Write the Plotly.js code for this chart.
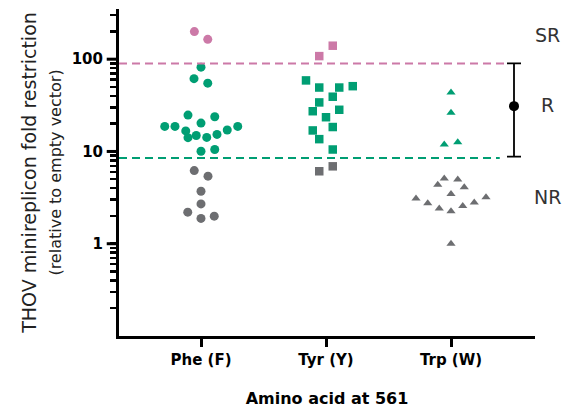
<!DOCTYPE html>
<html>
<head>
<meta charset="utf-8">
<script src="https://cdn.plot.ly/plotly-3.0.1.min.js"></script>
<style>html,body{margin:0;padding:0;background:#fff;}#chart{width:569px;height:409px;}</style>
</head>
<body>
<div id="chart"></div>
<script>
// ---- data ----
const categories = ['Phe (F)', 'Tyr (Y)', 'Trp (W)'];
const yMajorVals = [1, 10, 100];
const yMajorText = ['1', '10', '100'];

// Phe (F)
const pheSR = [199, 164];
const pheSRdx = [-0.053, 0.054];
const pheR = [82, 61.5, 55, 24.8, 20.3, 23.8, 18.7, 18.7, 16.7, 14.1, 14.9, 14.2, 15.3, 17.1, 18.7, 10.05, 10.5];
const pheRdx = [0, -0.056, 0.054, -0.104, 0, 0.11, -0.29, -0.208, -0.122, -0.104, -0.038, 0.046, 0.128, 0.21, 0.294, 0, 0.11];
const pheNR = [6.2, 5.4, 3.7, 2.7, 2.2, 1.88, 1.99];
const pheNRdx = [-0.054, 0.056, 0, 0, -0.106, 0, 0.106];

// Tyr (Y)
const tyrSR = [140, 108];
const tyrSRdx = [0.054, -0.054];
const tyrR = [58.9, 49.3, 49.3, 51, 39.2, 34, 27.3, 28.3, 23.5, 18.4, 16.9, 13.6, 10.5];
const tyrRdx = [-0.16, -0.054, 0.106, 0.214, 0.054, -0.054, -0.106, 0.106, 0, 0.054, -0.106, -0.054, 0.054];
const tyrNR = [6.1, 6.9];
const tyrNRdx = [-0.054, 0.054];

// Trp (W)
const trpR = [43.6, 26.3, 11.9, 12.6];
const trpRdx = [0, 0, -0.054, 0.054];
const trpNR = [5.08, 4.96, 4.35, 4.1, 3.45, 3.1, 2.75, 2.41, 2.25, 2.57, 2.79, 3.18, 1.0];
const trpNRdx = [-0.054, 0.054, -0.106, 0.106, 0, -0.28, -0.186, -0.094, 0, 0.094, 0.186, 0.28, 0];

// thresholds and restriction-class summary
const srThreshold = 90;
const nrThreshold = 8.5;
const rMean = 31;
const rUpper = 90;
const rLower = 8.8;
const classLabels = ['SR', 'R', 'NR'];

// ---- styling ----
const PINK = '#CC79A7', GREEN = '#009E73', GRAY = '#6D6E71';
const FONT = 'DejaVu Sans, Liberation Sans, Arial, sans-serif';

function pts(catIdx, ys, dxs, color, symbol, size) {
  return {
    type: 'scatter', mode: 'markers',
    x: ys.map((_, i) => catIdx + dxs[i]),
    y: ys,
    marker: {color: color, symbol: symbol, size: size, line: {width: 0}},
    hoverinfo: 'y', showlegend: false, cliponaxis: false
  };
}

const traces = [
  pts(0, pheSR, pheSRdx, PINK, 'circle', 9),
  pts(0, pheR, pheRdx, GREEN, 'circle', 9),
  pts(0, pheNR, pheNRdx, GRAY, 'circle', 9),
  pts(1, tyrSR, tyrSRdx, PINK, 'square', 8.5),
  pts(1, tyrR, tyrRdx, GREEN, 'square', 8.5),
  pts(1, tyrNR, tyrNRdx, GRAY, 'square', 8.5),
  pts(2, trpR, trpRdx, GREEN, 'triangle-up', 8),
  pts(2, trpNR, trpNRdx, GRAY, 'triangle-up', 8),
  {
    type: 'scatter', mode: 'markers', x: [2.504], y: [rMean],
    marker: {color: '#000', size: 10},
    error_y: {type: 'data', symmetric: false, array: [rUpper - rMean], arrayminus: [rMean - rLower],
              color: '#000', thickness: 1.8, width: 7},
    showlegend: false, cliponaxis: false
  }
];

// all tick positions on the log axis: majors labelled, 2..9 of each decade unlabelled
const allTickVals = [], allTickText = [];
[0.1, 1, 10, 100].forEach(d => {
  for (let k = 1; k <= 9; k++) {
    const v = +(k * d).toPrecision(3);
    const mi = yMajorVals.indexOf(v);
    if (k === 1 && mi < 0) continue;
    allTickVals.push(v);
    allTickText.push(mi >= 0 ? yMajorText[mi] : '');
  }
});

// longer marks for the labelled (major) ticks
const majorTickShapes = yMajorVals.map(v => ({
  type: 'line', xref: 'paper', yref: 'y', x0: -0.0295, x1: -0.002, y0: v, y1: v,
  line: {color: '#000', width: 3}
}));

const layout = {
  width: 569, height: 409,
  margin: {l: 119, r: 34, t: 9, b: 73},
  paper_bgcolor: '#fff', plot_bgcolor: '#fff',
  font: {family: FONT, color: '#000'},
  xaxis: {
    range: [-0.656, 2.672],
    tickmode: 'array', tickvals: [0, 1, 2], ticktext: categories,
    showgrid: false, zeroline: false,
    showline: true, linecolor: '#000', linewidth: 3,
    ticks: 'outside', ticklen: 8, tickwidth: 3, tickcolor: '#000',
    tickfont: {family: FONT, size: 15, color: '#000', weight: 'bold'},
    title: {text: '<b>Amino acid at 561</b>', font: {family: FONT, size: 16, color: '#000'}, standoff: 25}
  },
  yaxis: {
    type: 'log', range: [-1, 2.544],
    tickmode: 'array', tickvals: allTickVals, ticktext: allTickText,
    showgrid: false, zeroline: false,
    showline: true, linecolor: '#000', linewidth: 3,
    ticks: 'outside', ticklen: 6, tickwidth: 2.5, tickcolor: '#000',
    tickfont: {family: FONT, size: 15, color: '#000', weight: 'bold'},
    ticklabelstandoff: 4,
    title: {text: 'THOV minireplicon fold restriction<br><span style="font-size:16px">(relative to empty vector)</span>',
            font: {family: FONT, size: 19, color: '#222'}, standoff: 6}
  },
  shapes: [
    {type: 'line', xref: 'x', yref: 'y', x0: -0.656, x1: 2.43, y0: srThreshold, y1: srThreshold,
     line: {color: PINK, width: 2, dash: '8px,5px'}},
    {type: 'line', xref: 'x', yref: 'y', x0: -0.656, x1: 2.39, y0: nrThreshold, y1: nrThreshold,
     line: {color: GREEN, width: 2, dash: '8px,5px'}}
  ].concat(majorTickShapes),
  annotations: [
    {xref: 'paper', yref: 'paper', x: 1.031, y: 0.920, text: classLabels[0], showarrow: false,
     xanchor: 'center', yanchor: 'middle', font: {family: FONT, size: 19, color: '#333'}},
    {xref: 'paper', yref: 'paper', x: 1.031, y: 0.706, text: classLabels[1], showarrow: false,
     xanchor: 'center', yanchor: 'middle', font: {family: FONT, size: 19, color: '#333'}},
    {xref: 'paper', yref: 'paper', x: 1.031, y: 0.425, text: classLabels[2], showarrow: false,
     xanchor: 'center', yanchor: 'middle', font: {family: FONT, size: 19, color: '#333'}}
  ]
};

Plotly.newPlot('chart', traces, layout, {displayModeBar: false, staticPlot: true});
</script>
</body>
</html>
